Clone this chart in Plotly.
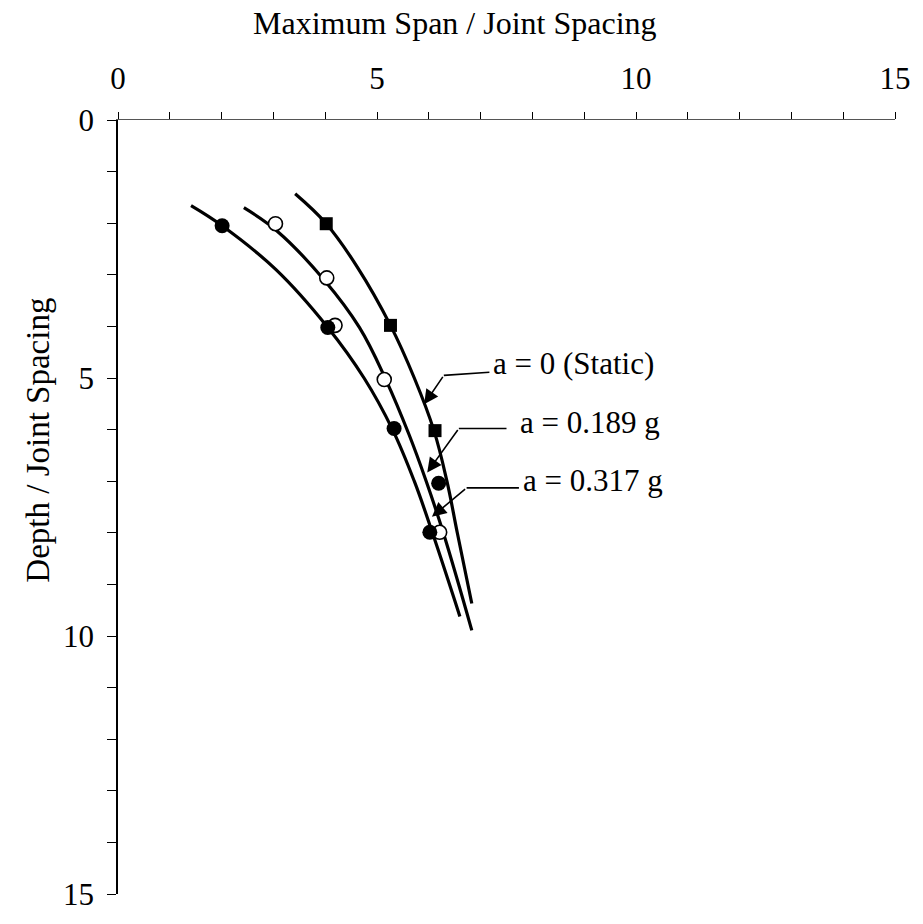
import plotly.graph_objects as go

# Fitted design curves (span ratio vs depth ratio)
static_curve_x = [3.42, 4.02, 4.62, 5.26, 5.72, 6.10, 6.35, 6.55, 6.83]
static_curve_y = [1.43, 2.01, 2.85, 3.98, 5.00, 6.02, 7.00, 8.00, 9.37]

a189_curve_x = [2.43, 3.08, 3.98, 4.66, 5.17, 5.62, 5.95, 6.28, 6.83]
a189_curve_y = [1.70, 2.16, 3.10, 4.02, 5.03, 6.10, 7.00, 8.00, 9.89]

a317_curve_x = [1.41, 2.01, 3.05, 4.05, 4.75, 5.30, 5.72, 6.07, 6.60]
a317_curve_y = [1.66, 2.05, 2.90, 4.02, 5.00, 6.00, 7.00, 8.00, 9.62]

# Computed points
static_pts_x = [4.02, 5.26, 6.12]
static_pts_y = [2.01, 3.98, 6.02]

a189_pts_x = [3.04, 4.03, 4.19, 5.14, 6.21]
a189_pts_y = [2.01, 3.06, 3.98, 5.03, 7.99]

a317_pts_x = [2.01, 4.05, 5.33, 6.02, 6.19]
a317_pts_y = [2.05, 4.02, 5.98, 7.99, 7.04]

# Curve labels: text, text anchor, leader start, elbow, arrow tip
labels = ["a = 0 (Static)", "a = 0.189 g", "a = 0.317 g"]
label_x = [7.21, 7.72, 7.78]
label_y = [4.72, 5.87, 6.98]
leader_start_x = [7.17, 7.50, 7.74]
leader_start_y = [4.89, 5.98, 7.13]
elbow_x = [6.29, 6.58, 6.73]
elbow_y = [4.95, 5.98, 7.13]
tip_x = [5.91, 5.97, 6.06]
tip_y = [5.51, 6.83, 7.69]

x_title = "Maximum Span / Joint Spacing"
y_title = "Depth / Joint Spacing"

FONT = "Liberation Serif, Times New Roman, serif"
BLACK = "#000000"

fig = go.Figure()

for cx, cy in [(static_curve_x, static_curve_y),
               (a189_curve_x, a189_curve_y),
               (a317_curve_x, a317_curve_y)]:
    fig.add_trace(go.Scatter(
        x=cx, y=cy, mode="lines",
        line=dict(color=BLACK, width=3.2, shape="spline", smoothing=1.1),
        showlegend=False, hoverinfo="skip"))

fig.add_trace(go.Scatter(
    x=static_pts_x, y=static_pts_y, mode="markers",
    marker=dict(symbol="square", size=13, color=BLACK),
    showlegend=False))
fig.add_trace(go.Scatter(
    x=a189_pts_x, y=a189_pts_y, mode="markers",
    marker=dict(symbol="circle", size=14, color="white",
                line=dict(color=BLACK, width=1.6)),
    showlegend=False))
fig.add_trace(go.Scatter(
    x=a317_pts_x, y=a317_pts_y, mode="markers",
    marker=dict(symbol="circle", size=15, color=BLACK),
    showlegend=False))

for i, txt in enumerate(labels):
    fig.add_shape(type="line", xref="x", yref="y",
                  x0=elbow_x[i], y0=elbow_y[i],
                  x1=leader_start_x[i], y1=leader_start_y[i],
                  line=dict(color=BLACK, width=1.6))
    fig.add_annotation(x=tip_x[i], y=tip_y[i], ax=elbow_x[i], ay=elbow_y[i],
                       xref="x", yref="y", axref="x", ayref="y",
                       text="", showarrow=True, arrowhead=2, arrowsize=1.8,
                       arrowwidth=1.6, arrowcolor=BLACK)
    fig.add_annotation(x=label_x[i], y=label_y[i], xref="x", yref="y",
                       text=txt, showarrow=False, xanchor="left",
                       yanchor="middle",
                       font=dict(family=FONT, size=31, color=BLACK))

fig.add_annotation(x=0.434, y=1.125, xref="paper", yref="paper",
                   text=x_title, showarrow=False,
                   xanchor="center", yanchor="middle",
                   font=dict(family=FONT, size=32, color=BLACK))
fig.add_annotation(x=-0.103, y=0.587, xref="paper", yref="paper",
                   text=y_title, showarrow=False, textangle=-90,
                   xanchor="center", yanchor="middle",
                   font=dict(family=FONT, size=33, color=BLACK))

fig.update_xaxes(
    range=[0, 15], side="top", tickvals=[0, 5, 10, 15],
    ticks="outside", ticklen=7, tickwidth=1, tickcolor=BLACK,
    minor=dict(dtick=1, ticks="outside", ticklen=7, tickcolor=BLACK, tickwidth=1),
    showline=True, linecolor="#555555", linewidth=1,
    showgrid=False, zeroline=False, ticklabelstandoff=11,
    tickfont=dict(family=FONT, size=31, color=BLACK))
fig.update_yaxes(
    range=[15, 0], tickvals=[0, 5, 10, 15],
    ticks="outside", ticklen=9, tickwidth=1, tickcolor=BLACK,
    minor=dict(dtick=1, ticks="outside", ticklen=9, tickcolor=BLACK, tickwidth=1),
    showline=True, linecolor=BLACK, linewidth=1.5,
    showgrid=False, zeroline=False, ticklabelstandoff=7,
    tickfont=dict(family=FONT, size=31, color=BLACK))

fig.update_layout(
    width=923, height=924,
    margin=dict(l=118, r=21, t=120, b=19),
    paper_bgcolor="white", plot_bgcolor="white",
    showlegend=False)

fig.write_html("out.html")
